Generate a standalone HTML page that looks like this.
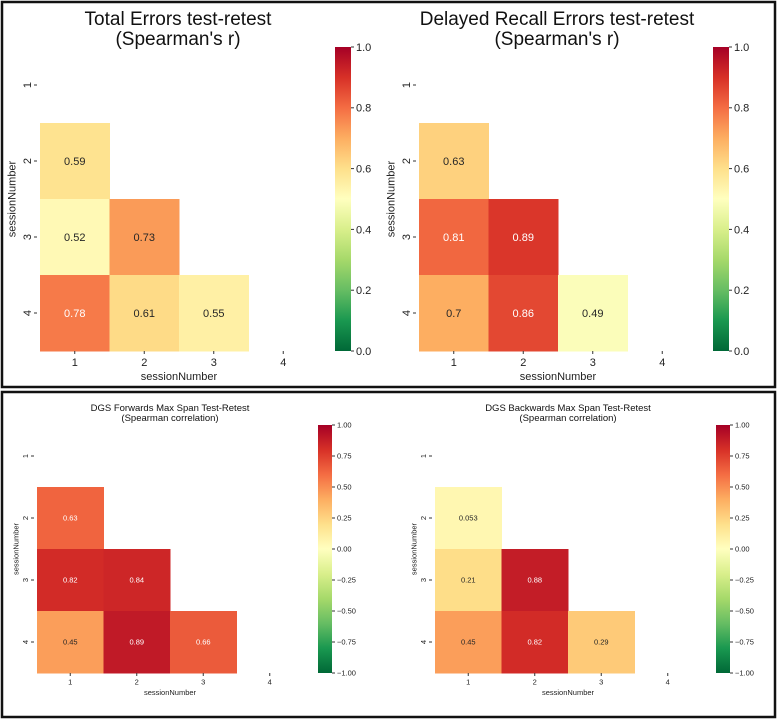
<!DOCTYPE html>
<html><head><meta charset="utf-8"><style>
body{margin:0;background:#fff;width:778px;height:720px;overflow:hidden;font-family:"Liberation Sans","DejaVu Sans",sans-serif}
svg{position:absolute;left:0;top:0}
</style></head><body>
<svg id="s" width="778" height="720" xmlns="http://www.w3.org/2000/svg">
<rect x="2" y="2" width="773" height="385" fill="none" stroke="#111" stroke-width="2.5"/>
<rect x="2" y="392" width="773" height="325" fill="none" stroke="#111" stroke-width="2.5"/>
</svg>
<script>
const sessions=["1","2","3","4"];
const totalErrors=[[null,null,null,null],[0.59,null,null,null],[0.52,0.73,null,null],[0.78,0.61,0.55,null]];
const totalLabels=[[null,null,null,null],["0.59",null,null,null],["0.52","0.73",null,null],["0.78","0.61","0.55",null]];
const delayedRecall=[[null,null,null,null],[0.63,null,null,null],[0.81,0.89,null,null],[0.7,0.86,0.49,null]];
const delayedLabels=[[null,null,null,null],["0.63",null,null,null],["0.81","0.89",null,null],["0.7","0.86","0.49",null]];
const dgsForward=[[null,null,null,null],[0.63,null,null,null],[0.82,0.84,null,null],[0.45,0.89,0.66,null]];
const dgsForwardLabels=[[null,null,null,null],["0.63",null,null,null],["0.82","0.84",null,null],["0.45","0.89","0.66",null]];
const dgsBackward=[[null,null,null,null],[0.053,null,null,null],[0.21,0.88,null,null],[0.45,0.82,0.29,null]];
const dgsBackwardLabels=[[null,null,null,null],["0.053",null,null,null],["0.21","0.88",null,null],["0.45","0.82","0.29",null]];
const ticksTop=["0.0","0.2","0.4","0.6","0.8","1.0"];
const ticksBottom=["−1.00","−0.75","−0.50","−0.25","0.00","0.25","0.50","0.75","1.00"];

const stops=["#006837","#1a9850","#66bd63","#a6d96a","#d9ef8b","#ffffbf","#fee08b","#fdae61","#f46d43","#d73027","#a50026"];
function hex(h){return [1,3,5].map(i=>parseInt(h.substr(i,2),16));}
function cmap(t){t=Math.max(0,Math.min(1,t));const p=t*10,i=Math.min(9,Math.floor(p)),f=p-i;const a=hex(stops[i]),b=hex(stops[i+1]);return a.map((v,k)=>Math.round(v+(b[k]-v)*f));}
function lum(c){const l=c.map(v=>{v/=255;return v<=0.03928?v/12.92:Math.pow((v+0.055)/1.055,2.4)});return 0.2126*l[0]+0.7152*l[1]+0.0722*l[2];}
const S=document.getElementById('s');const NS="http://www.w3.org/2000/svg";
function el(tag,attrs,txt){const e=document.createElementNS(NS,tag);for(const k in attrs)e.setAttribute(k,attrs[k]);if(txt!=null)e.textContent=txt;S.appendChild(e);return e;}

function heat(o){
  const {x0,y0,cw,ch,vals,labels,vmin,vmax,ticks,fs,titleFs,title,tx,ty,cbx,cbw,prefix}=o;
  const xs=i=>x0+i*cw, ys=j=>y0+j*ch, norm=v=>(v-vmin)/(vmax-vmin);
  title.forEach((t,i)=>{const e=el('text',{x:tx,y:ty+i*titleFs*1.05,'font-size':titleFs,'text-anchor':'middle',fill:'#111'},t);
    
    });
  for(let j=0;j<4;j++)for(let i=0;i<4;i++){const v=vals[j][i];if(v==null)continue;const c=cmap(norm(v));
    const r=el('rect',{x:xs(i),y:ys(j),width:cw+0.5,height:ch+0.5,fill:`rgb(${c})`});
    
    
    const t=el('text',{x:xs(i)+cw/2,y:ys(j)+ch/2+fs*0.35,'font-size':fs,'text-anchor':'middle',fill:lum(c)>0.408?'#262626':'#fff'},labels[j][i]);
    
    }
  const H=ch*4;
  sessions.forEach((s,k)=>{
    el('line',{x1:xs(k)+cw/2,x2:xs(k)+cw/2,y1:y0+H,y2:y0+H+3,stroke:'#333'});
    const a=el('text',{x:xs(k)+cw/2,y:y0+H+fs+4,'font-size':fs,'text-anchor':'middle',fill:'#222'},s);
    
    
    el('line',{x1:x0-3,x2:x0-6,y1:ys(k)+ch/2,y2:ys(k)+ch/2,stroke:'#333'});
    const yy=ys(k)+ch/2, xx=x0-9;
    const b=el('text',{x:xx,y:yy,'font-size':fs,'text-anchor':'middle',fill:'#222',transform:`rotate(-90 ${xx} ${yy})`},s);
    
    
  });
  const xl=el('text',{x:x0+cw*2,y:y0+H+fs*2+7,'font-size':fs,'text-anchor':'middle',fill:'#222'},'sessionNumber');
  
  
  const lx=x0-fs*1.7-6, ly=y0+H/2;
  const yl=el('text',{x:lx,y:ly,'font-size':fs,'text-anchor':'middle',fill:'#222',transform:`rotate(-90 ${lx} ${ly})`},'sessionNumber');
  
  
  const gid=prefix+'grad';
  const defs=el('defs',{});const lg=document.createElementNS(NS,'linearGradient');
  lg.setAttribute('id',gid);lg.setAttribute('x1','0');lg.setAttribute('y1','1');lg.setAttribute('x2','0');lg.setAttribute('y2','0');
  stops.forEach((c,i)=>{const st=document.createElementNS(NS,'stop');st.setAttribute('offset',i/10);st.setAttribute('stop-color',c);lg.appendChild(st);});
  defs.appendChild(lg);
  const cy0=y0, cH=H;
  const cb=el('rect',{x:cbx,y:cy0,width:cbw,height:cH,fill:`url(#${gid})`});
  
  
  ticks.forEach((t,k)=>{const v=vmin+(vmax-vmin)*k/(ticks.length-1);const y=cy0+cH*(1-norm(v));
    el('line',{x1:cbx+cbw,x2:cbx+cbw+3,y1:y,y2:y,stroke:'#333'});
    const e=el('text',{x:cbx+cbw+5,y:y+fs*0.35,'font-size':fs,fill:'#222'},t);
    
    });
}
heat({x0:40,y0:47,cw:69.5,ch:76,vals:totalErrors,labels:totalLabels,vmin:0,vmax:1,ticks:ticksTop,fs:11,titleFs:19,title:["Total Errors test-retest","(Spearman's r)"],tx:178,ty:25,cbx:335,cbw:16,prefix:'total-errors'});
heat({x0:419,y0:47,cw:69.5,ch:76,vals:delayedRecall,labels:delayedLabels,vmin:0,vmax:1,ticks:ticksTop,fs:11,titleFs:19,title:["Delayed Recall Errors test-retest","(Spearman's r)"],tx:557,ty:25,cbx:713,cbw:16,prefix:'delayed-recall'});
heat({x0:37,y0:425,cw:66.5,ch:62,vals:dgsForward,labels:dgsForwardLabels,vmin:-1,vmax:1,ticks:ticksBottom,fs:7.5,titleFs:9.5,title:["DGS Forwards Max Span Test-Retest","(Spearman correlation)"],tx:170,ty:411,cbx:318,cbw:14,prefix:'dgs-forwards'});
heat({x0:435,y0:425,cw:66.5,ch:62,vals:dgsBackward,labels:dgsBackwardLabels,vmin:-1,vmax:1,ticks:ticksBottom,fs:7.5,titleFs:9.5,title:["DGS Backwards Max Span Test-Retest","(Spearman correlation)"],tx:568,ty:411,cbx:716,cbw:14,prefix:'dgs-backwards'});
</script>
</body></html>
